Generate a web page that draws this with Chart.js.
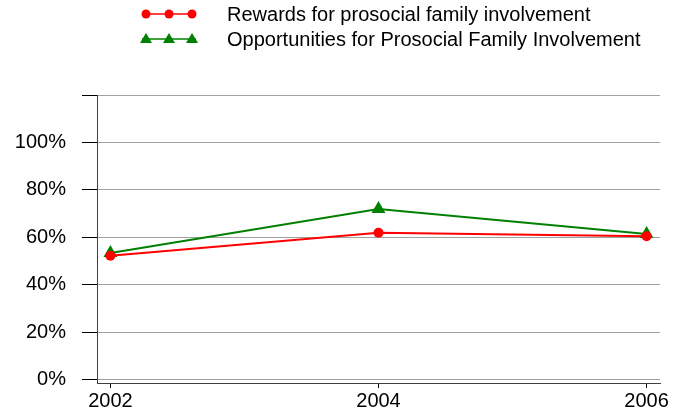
<!DOCTYPE html>
<html lang="en">
<head>
<meta charset="UTF-8">
<title>Prosocial Family Involvement</title>
<script src="https://cdn.jsdelivr.net/npm/chart.js@4"></script>
<style>
  html, body { margin: 0; padding: 0; background: #fff; }
  #wrap { width: 680px; height: 414px; position: relative; }
</style>
</head>
<body>
<div id="wrap"><canvas id="chart" width="680" height="414"></canvas></div>
<script>
const years = [2002, 2004, 2006];
const rewards = [52.3, 62, 60.5];
const opportunities = [53.5, 72, 61.5];
const yTicks = [0, 20, 40, 60, 80, 100, 120];

const FONT = '"Liberation Sans", Arial, sans-serif';

// legend drawn like the original: a short line with three markers
const legendPlugin = {
    id: 'topLegend',
    afterDraw(chart) {
        const c = chart.ctx;
        c.save();
        chart.data.datasets.forEach((ds, i) => {
            const y = 14 + i * 25;
            c.strokeStyle = ds.borderColor;
            c.lineWidth = 1.5;
            c.beginPath();
            c.moveTo(142, y);
            c.lineTo(196, y);
            c.stroke();
            [146, 169, 192].forEach(x => {
                c.fillStyle = ds.backgroundColor;
                c.beginPath();
                if (ds.pointStyle === 'triangle') {
                    c.moveTo(x, y - 6);
                    c.lineTo(x + 6, y + 4);
                    c.lineTo(x - 6, y + 4);
                    c.closePath();
                } else {
                    c.arc(x, y, 4.5, 0, Math.PI * 2);
                }
                c.fill();
            });
            c.fillStyle = '#000';
            c.font = '20px ' + FONT;
            c.textBaseline = 'middle';
            c.textAlign = 'left';
            c.fillText(ds.label, 227, y + 1);
        });
        c.restore();
    }
};

new Chart(document.getElementById('chart'), {
    type: 'line',
    data: {
        datasets: [{
            label: 'Rewards for prosocial family involvement',
            data: years.map((y, i) => ({x: y, y: rewards[i]})),
            borderColor: '#ff0000',
            backgroundColor: '#ff0000',
            borderWidth: 2,
            pointStyle: 'circle',
            pointRadius: 5,
            pointBorderWidth: 0
        }, {
            label: 'Opportunities for Prosocial Family Involvement',
            data: years.map((y, i) => ({x: y, y: opportunities[i]})),
            borderColor: '#008000',
            backgroundColor: '#008000',
            borderWidth: 2,
            pointStyle: 'triangle',
            pointRadius: 8,
            pointBorderWidth: 0
        }]
    },
    options: {
        responsive: false,
        animation: false,
        layout: { padding: { top: 95, right: 20, left: 0, bottom: 0 } },
        plugins: { legend: { display: false }, tooltip: { enabled: false } },
        scales: {
            x: {
                type: 'linear',
                min: 2001.9,
                max: 2006.1,
                afterBuildTicks: s => { s.ticks = years.map(v => ({value: v})); },
                afterFit: s => { s.height = 31; },
                grid: { drawOnChartArea: false, tickLength: 5, tickColor: '#000' },
                border: { color: '#404040', width: 1 },
                ticks: {
                    color: '#000',
                    padding: 1,
                    maxRotation: 0,
                    font: { family: FONT, size: 20 },
                    callback: v => String(v)
                }
            },
            y: {
                min: -1.3,
                max: 120,
                afterBuildTicks: s => { s.ticks = yTicks.map(v => ({value: v})); },
                afterFit: s => { s.width = 97; },
                grid: { color: '#a0a0a0', tickColor: '#000', tickLength: 15, lineWidth: 1 },
                border: { color: '#404040', width: 1 },
                ticks: {
                    color: '#000',
                    padding: 16,
                    font: { family: FONT, size: 20 },
                    callback: v => v === 120 ? '' : v + '%'
                }
            }
        }
    },
    plugins: [legendPlugin]
});
</script>
</body>
</html>
